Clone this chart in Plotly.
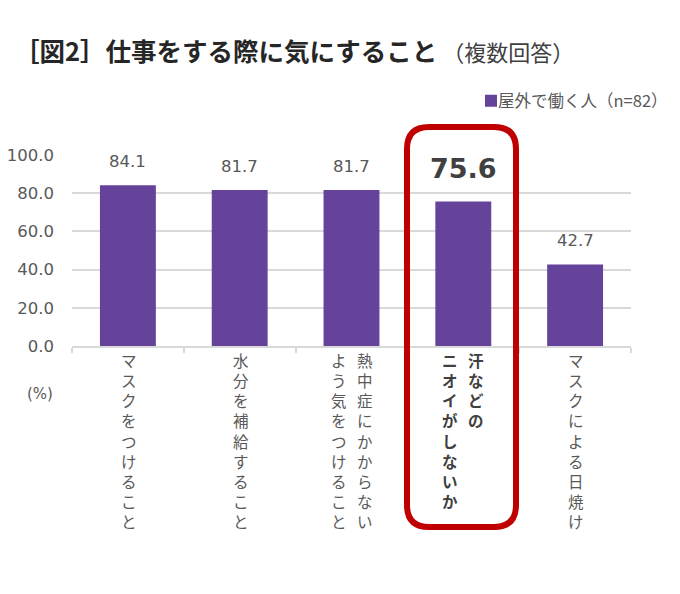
import plotly.graph_objects as go

categories = ["マスクをつけること", "水分を補給すること", "熱中症にかからないよう気をつけること", "汗などのニオイがしないか", "マスクによる日焼け"]
label_columns = [["マスクをつけること"], ["水分を補給すること"], ["熱中症にかからない", "よう気をつけること"], ["汗などの", "ニオイがしないか"], ["マスクによる日焼け"]]
values = [84.1, 81.7, 81.7, 75.6, 42.7]
highlight = "汗などのニオイがしないか"
series_name = "屋外で働く人（n=82）"
y_ticks = [0, 20, 40, 60, 80, 100]
y_tick_labels = ["0.0", "20.0", "40.0", "60.0", "80.0", "100.0"]

W, H = 680, 594
L, R, T, B = 72, 49, 155, 248
GRAY = "#595959"
DARK = "#404040"
JP = "Noto Sans CJK JP"
LATIN = "DejaVu Sans, Noto Sans CJK JP"


def px(x):
    return (x - L) / (W - L - R)


def py(y):
    return (H - B - y) / (H - T - B)


fig = go.Figure(go.Bar(x=categories, y=values, name=series_name, width=0.5,
                       marker=dict(color="#65439A", line=dict(width=0)), showlegend=True))

ann = []
for cat, v in zip(categories, values):
    hi = cat == highlight
    txt = f"<b>{v:.1f}</b>" if hi else f"{v:.1f}"
    ann.append(dict(x=cat, y=v, xref="x", yref="y", text=txt, showarrow=False, yanchor="bottom",
                    yshift=16 if hi else 12,
                    font=dict(family=LATIN, size=27 if hi else 16.5, color=DARK if hi else GRAY)))

for cat, cols in zip(categories, label_columns):
    hi = cat == highlight
    n = len(cols)
    for i, col in enumerate(cols):
        shift = (n - 1 - 2 * i) * 13 * (1 if n > 1 else 0)
        s = "<br>".join(col)
        ann.append(dict(x=cat, y=0, xref="x", yref="y", yanchor="top", yshift=-1, xshift=shift + (1 if n == 1 else 0),
                        text=f"<b>{s}</b>" if hi else s, showarrow=False, align="center",
                        font=dict(family=JP, size=15.5, color=DARK if hi else GRAY)))

ann.append(dict(x=px(40), y=py(394), xref="paper", yref="paper", xanchor="center", yanchor="middle",
                text="(%)", showarrow=False, font=dict(family=LATIN, size=15, color=GRAY)))

x0, x1, y0, y1, r = 407, 516, 127, 527, 22
path = (f"M {px(x0 + r)} {py(y0)} L {px(x1 - r)} {py(y0)} Q {px(x1)} {py(y0)} {px(x1)} {py(y0 + r)} "
        f"L {px(x1)} {py(y1 - r)} Q {px(x1)} {py(y1)} {px(x1 - r)} {py(y1)} "
        f"L {px(x0 + r)} {py(y1)} Q {px(x0)} {py(y1)} {px(x0)} {py(y1 - r)} "
        f"L {px(x0)} {py(y0 + r)} Q {px(x0)} {py(y0)} {px(x0 + r)} {py(y0)} Z")

fig.update_layout(
    width=W, height=H, autosize=False,
    margin=dict(l=L, r=R, t=T, b=B, pad=0, autoexpand=False),
    paper_bgcolor="white", plot_bgcolor="white",
    title=dict(text='<b>［図2］仕事をする際に気にすること</b><span style="font-size:22px;color:#404040"> （複数回答）</span>',
               x=14 / W, xanchor="left", xref="container", y=1 - 52 / H, yanchor="middle", yref="container",
               font=dict(family=JP, size=25.5, color="#262626")),
    legend=dict(x=px(673), xanchor="right", y=py(101), yanchor="middle", orientation="h",
                font=dict(family=JP, size=16.5, color=GRAY), bgcolor="rgba(0,0,0,0)", itemclick=False),
    xaxis=dict(showticklabels=False, ticks="outside", ticklen=5, tickcolor="#D9D9D9", tickwidth=1.5,
               tickson="boundaries", showline=True, linecolor="#D9D9D9", linewidth=2, showgrid=False,
               fixedrange=True, automargin=False),
    yaxis=dict(range=[0, 100], tickvals=y_ticks, ticktext=y_tick_labels, showgrid=True, gridcolor="#D9D9D9",
               gridwidth=2, zeroline=False, ticks="", ticklabelstandoff=17, automargin=False,
               tickfont=dict(family=LATIN, size=16.5, color=GRAY), fixedrange=True),
    annotations=ann,
    shapes=[dict(type="path", xref="paper", yref="paper", path=path,
                 line=dict(color="#C00000", width=6), fillcolor="rgba(0,0,0,0)", layer="above")],
)
fig.write_html("out.html", config=dict(displayModeBar=False),
               post_script="document.body.style.margin='0';"
                           "document.querySelectorAll('.legendsymbols').forEach(function(s){s.setAttribute('transform','translate(13,0)');});")
